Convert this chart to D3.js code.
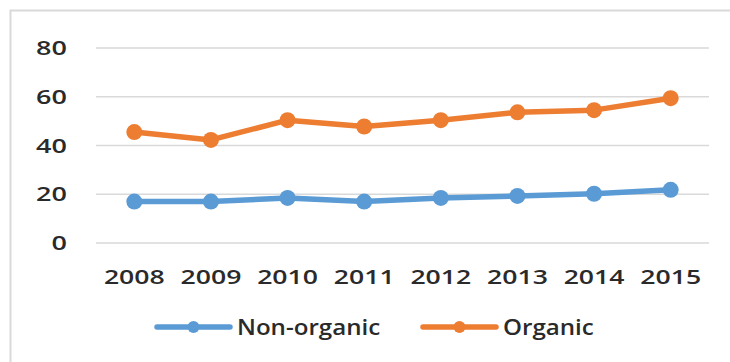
<!DOCTYPE html>
<html>
<head>
<meta charset="utf-8">
<script src="https://cdn.jsdelivr.net/npm/d3@7"></script>
<style>
  body { margin: 0; background: #fff; }
  text { font-family: "Open Sans", sans-serif; fill: #2a2a2a; }
</style>
</head>
<body>
<div id="chart"></div>
<script>
// data
var years = ["2008", "2009", "2010", "2011", "2012", "2013", "2014", "2015"];
var nonOrganic = [17, 17, 18.5, 17, 18.5, 19.3, 20.2, 21.8];
var organic = [45.5, 42.3, 50.4, 47.8, 50.4, 53.6, 54.5, 59.4];
var yTicks = [0, 20, 40, 60, 80];
var seriesNames = ["Non-organic", "Organic"];
var seriesColors = ["#5B9BD5", "#ED7D31"];

var width = 730, height = 362;
var margin = { top: 48, right: 21, bottom: 119, left: 96 };
var w = width - margin.left - margin.right;
var h = height - margin.top - margin.bottom;

var svg = d3.select("#chart").append("svg")
    .attr("width", width)
    .attr("height", height);

// outer chart frame
svg.append("rect")
    .attr("x", 10.5).attr("y", 10.5)
    .attr("width", 760).attr("height", 400)
    .attr("fill", "none")
    .attr("stroke", "#d9d9d9")
    .attr("stroke-width", 2);

var g = svg.append("g")
    .attr("transform", `translate(${margin.left}, ${margin.top})`);

var x = d3.scalePoint().domain(years).range([0, w]).padding(0.5);
var y = d3.scaleLinear().domain([0, 80]).range([h, 0]);

// gridlines
g.selectAll(".grid")
    .data(yTicks)
    .enter()
    .append("line")
    .attr("x1", 0).attr("x2", w)
    .attr("y1", d => y(d)).attr("y2", d => y(d))
    .attr("stroke", "#d9d9d9")
    .attr("stroke-width", 1.5);

// y labels
g.selectAll(".ylab")
    .data(yTicks)
    .enter()
    .append("text")
    .attr("transform", d => `translate(-29, ${y(d) + 7}) scale(1.35, 1)`)
    .attr("text-anchor", "end")
    .attr("font-size", "20px")
    .attr("font-weight", 600)
    .text(d => d);

// x labels
g.selectAll(".xlab")
    .data(years)
    .enter()
    .append("text")
    .attr("transform", d => `translate(${x(d)}, ${h + 41}) scale(1.33, 1)`)
    .attr("text-anchor", "middle")
    .attr("font-size", "20px")
    .attr("font-weight", 600)
    .text(d => d);

var line = d3.line()
    .x((d, i) => x(years[i]))
    .y(d => y(d));

[nonOrganic, organic].forEach(function (vals, s) {
    g.append("path")
        .datum(vals)
        .attr("d", line)
        .attr("fill", "none")
        .attr("stroke", seriesColors[s])
        .attr("stroke-width", 5.5)
        .attr("stroke-linejoin", "round");

    g.selectAll(".dot" + s)
        .data(vals)
        .enter()
        .append("circle")
        .attr("cx", (d, i) => x(years[i]))
        .attr("cy", d => y(d))
        .attr("r", 8)
        .attr("fill", seriesColors[s]);
});

// legend
var legendX = [157, 423];
var legend = svg.selectAll(".legend")
    .data(seriesNames)
    .enter()
    .append("g")
    .attr("transform", (d, i) => `translate(${legendX[i]}, 327)`);

legend.append("line")
    .attr("x1", 0).attr("x2", 73)
    .attr("stroke", (d, i) => seriesColors[i])
    .attr("stroke-width", 5.5)
    .attr("stroke-linecap", "round");

legend.append("circle")
    .attr("cx", 36.5)
    .attr("r", 6)
    .attr("fill", (d, i) => seriesColors[i]);

legend.append("text")
    .attr("transform", "translate(80, 8) scale(1.15, 1)")
    .attr("font-size", "21px")
    .attr("font-weight", 600)
    .text(d => d);
</script>
</body>
</html>
